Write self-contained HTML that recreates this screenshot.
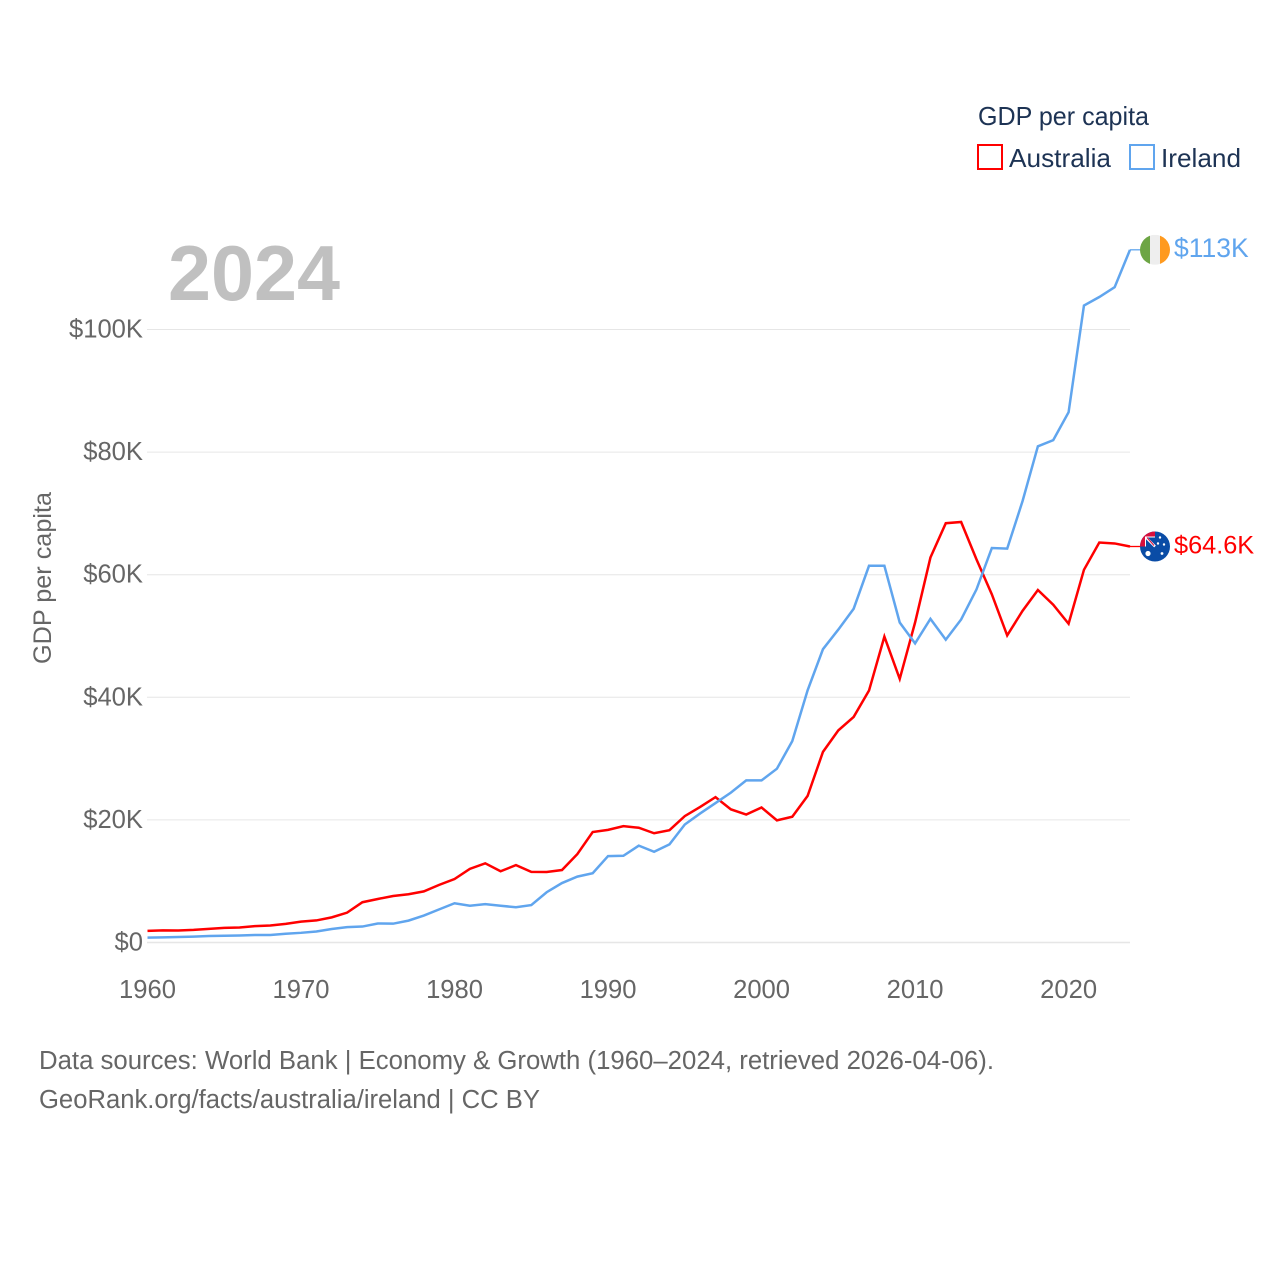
<!DOCTYPE html>
<html lang="en">
<head>
<meta charset="utf-8">
<title>GDP per capita: Australia and Ireland</title>
<style>
html,body{margin:0;padding:0;background:#fff;width:1280px;height:1280px;overflow:hidden}
svg{display:block}
text{font-family:"Liberation Sans",Arial,sans-serif}
</style>
</head>
<body>
<svg id="chart" width="1280" height="1280" viewBox="0 0 1280 1280" xmlns="http://www.w3.org/2000/svg">
  <defs>
    <clipPath id="flag-clip"><circle cx="0" cy="0" r="15"/></clipPath>
  </defs>
  <g id="grid"></g>
  <g id="y-ticks"></g>
  <g id="x-ticks"></g>
  <text x="340" y="300" text-anchor="end" font-size="78" font-weight="700" fill="#c0c0c0" textLength="172" lengthAdjust="spacingAndGlyphs">2024</text>
  <text transform="translate(51 578) rotate(-90)" text-anchor="middle" font-size="25" fill="#666666" textLength="172" lengthAdjust="spacingAndGlyphs">GDP per capita</text>

  <g>
    <text x="978" y="125" font-size="26" fill="#1d3354" textLength="171" lengthAdjust="spacingAndGlyphs">GDP per capita</text>
    <g>
      <rect x="978" y="145" width="24" height="24" fill="none" stroke="#ff0000" stroke-width="2"/>
      <text x="1009" y="167" font-size="26" fill="#1d3354" textLength="102" lengthAdjust="spacingAndGlyphs">Australia</text>
    </g>
    <g>
      <rect x="1130" y="145" width="24" height="24" fill="none" stroke="#60a5ee" stroke-width="2"/>
      <text x="1161" y="167" font-size="26" fill="#1d3354" textLength="80" lengthAdjust="spacingAndGlyphs">Ireland</text>
    </g>
  </g>

  <g id="series"></g>

  <g id="flag-ireland" clip-path="url(#flag-clip)">
    <rect x="-15" y="-15" width="10" height="30" fill="#6da544"/>
    <rect x="-5" y="-15" width="10" height="30" fill="#eeeeee"/>
    <rect x="5" y="-15" width="10" height="30" fill="#ff9a1f"/>
  </g>
  <g id="flag-australia" clip-path="url(#flag-clip)">
    <rect x="-15" y="-15" width="30" height="30" fill="#0a4ca6"/>
    <rect x="-15" y="-15" width="15" height="15" fill="#d80f3c"/>
    <rect x="-10" y="-10" width="10" height="10" fill="#ffffff"/>
    <rect x="-9" y="-9" width="9" height="9" fill="#0a4ca6"/>
    <path d="M-9 -9 L0 0" stroke="#ffffff" stroke-width="2.5"/>
    <path d="M-8 -9 L-1 -1" stroke="#d80f3c" stroke-width="1"/>
    <circle cx="-7" cy="7" r="2.6" fill="#ffffff"/>
    <circle cx="5" cy="-9" r="1.2" fill="#ffffff"/>
    <circle cx="3" cy="-3" r="1.2" fill="#ffffff"/>
    <circle cx="9" cy="-2" r="1.2" fill="#ffffff"/>
    <circle cx="7" cy="7" r="1.4" fill="#ffffff"/>
  </g>
  <g id="end-labels"></g>

  <g>
    <text x="39" y="1069" font-size="25.5" fill="#666666" textLength="955" lengthAdjust="spacingAndGlyphs">Data sources: World Bank | Economy &amp; Growth (1960–2024, retrieved 2026-04-06).</text>
    <text x="39" y="1108" font-size="25.5" fill="#666666" textLength="501" lengthAdjust="spacingAndGlyphs">GeoRank.org/facts/australia/ireland | CC BY</text>
  </g>
</svg>
<script>
const startYear = 1960;
const endYear = 2024;
const australiaValues = [1.90,1.97,1.95,2.06,2.23,2.38,2.44,2.68,2.78,3.04,3.40,3.60,4.10,4.87,6.57,7.10,7.59,7.87,8.34,9.40,10.35,12.02,12.92,11.62,12.62,11.52,11.50,11.82,14.42,18.02,18.37,18.98,18.72,17.82,18.32,20.62,22.12,23.72,21.72,20.87,22.02,19.92,20.52,23.92,31.10,34.60,36.80,41.10,49.90,43.00,52.20,62.80,68.40,68.60,62.50,56.80,50.10,54.10,57.50,55.10,52.00,60.80,65.25,65.10,64.60];
const irelandValues = [0.79,0.83,0.89,0.95,1.06,1.10,1.14,1.22,1.22,1.42,1.58,1.80,2.20,2.50,2.60,3.10,3.07,3.57,4.40,5.40,6.40,6.00,6.25,6.00,5.75,6.10,8.20,9.70,10.75,11.30,14.10,14.15,15.80,14.80,16.00,19.25,21.05,22.75,24.45,26.45,26.45,28.35,32.85,41.15,47.85,51.05,54.45,61.45,61.45,52.20,48.80,52.80,49.40,52.70,57.60,64.35,64.25,72.00,80.95,81.95,86.50,103.90,105.30,106.90,113.00];
const yTickValues = [0,20,40,60,80,100];
const yTickLabels = ["$0","$20K","$40K","$60K","$80K","$100K"];
const xTickValues = [1960,1970,1980,1990,2000,2010,2020];

const NS = "http://www.w3.org/2000/svg";
function xScale(year) { return 147.5 + (year - startYear) * (1130 - 147.5) / (endYear - startYear); }
function yScale(v) { return 942.5 - v * (942.5 - 329.5) / 100; }
function make(tag, parent) { const el = document.createElementNS(NS, tag); parent.appendChild(el); return el; }
function fmt(v) { return "$" + (v >= 100 ? Math.round(v) : v.toFixed(1)) + "K"; }

const grid = document.getElementById("grid");
const yTicks = document.getElementById("y-ticks");
yTickValues.forEach(function (v, i) {
  const line = make("line", grid);
  
  
  line.setAttribute("x1", 147);
  line.setAttribute("x2", 1130);
  line.setAttribute("y1", yScale(v));
  line.setAttribute("y2", yScale(v));
  line.setAttribute("stroke", "#e6e6e6");
  line.setAttribute("stroke-width", v === 0 ? 1.5 : 1);
  const t = make("text", yTicks);
  
  
  t.setAttribute("x", 143);
  t.setAttribute("y", yScale(v) + 8);
  t.setAttribute("text-anchor", "end");
  t.setAttribute("font-size", "25.6");
  t.setAttribute("fill", "#666666");
  t.textContent = yTickLabels[i];
});

const xTicks = document.getElementById("x-ticks");
xTickValues.forEach(function (yr) {
  const t = make("text", xTicks);
  
  
  t.setAttribute("x", xScale(yr));
  t.setAttribute("y", 998);
  t.setAttribute("text-anchor", "middle");
  t.setAttribute("font-size", "25.6");
  t.setAttribute("fill", "#666666");
  t.textContent = String(yr);
});

function drawSeries(values, color, flagId) {
  const group = document.getElementById("series");
  const pts = values.map(function (v, i) { return xScale(startYear + i).toFixed(2) + "," + yScale(v).toFixed(2); }).join(" ");
  const line = make("polyline", group);
  
  
  line.setAttribute("points", pts);
  line.setAttribute("fill", "none");
  line.setAttribute("stroke", color);
  line.setAttribute("stroke-width", "2.5");
  line.setAttribute("stroke-linejoin", "miter");
  const last = values[values.length - 1];
  const lastY = yScale(last);
  const conn = make("line", group);
  
  
  conn.setAttribute("x1", 1130);
  conn.setAttribute("x2", 1142);
  conn.setAttribute("y1", lastY);
  conn.setAttribute("y2", lastY);
  conn.setAttribute("stroke", color);
  conn.setAttribute("stroke-width", "1.3");
  document.getElementById(flagId).setAttribute("transform", "translate(1155 " + lastY + ")");
  const lab = make("text", document.getElementById("end-labels"));
  
  
  lab.setAttribute("x", 1174);
  lab.setAttribute("y", lastY + 7);
  lab.setAttribute("font-size", last >= 100 ? "26.5" : "25.3");
  lab.setAttribute("fill", color);
  lab.textContent = fmt(last);
}
drawSeries(australiaValues, "#ff0000", "flag-australia");
drawSeries(irelandValues, "#60a5ee", "flag-ireland");
</script>
</body>
</html>
